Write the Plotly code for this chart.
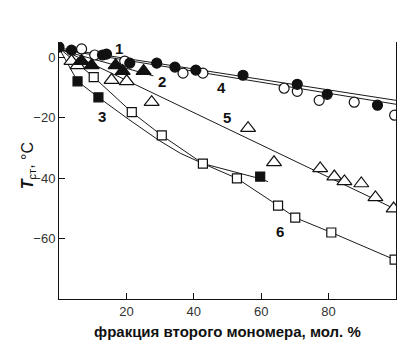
import plotly.graph_objects as go

# Series 1: filled circles
s1_x = [0, 3.7, 12.9, 14.1, 21.0, 29.0, 34.4, 40.6, 54.6, 70.7, 79.6, 94.5]
s1_y = [3.3, 2.3, 0.7, 1.0, -2.0, -2.0, -3.3, -4.3, -6.0, -9.0, -12.3, -15.9]
# Series 2: filled triangles
s2_x = [6.7, 9.7, 16.8, 18.9, 25.1]
s2_y = [-1.3, -2.7, -2.7, -4.6, -4.6]
# Series 3: filled squares
s3_x = [5.5, 11.7, 59.7]
s3_y = [-8.0, -13.3, -39.5]
# Series 4: open circles
s4_x = [6.7, 10.6, 19.5, 36.8, 42.7, 66.8, 70.7, 77.2, 87.6, 99.6]
s4_y = [2.7, 0.7, -1.3, -5.3, -5.3, -10.3, -11.3, -14.3, -14.9, -19.2]
# Series 5: open triangles
s5_x = [3.7, 5.5, 15.6, 20.1, 27.5, 56.1, 63.8, 77.5, 81.7, 84.7, 89.7, 93.9, 99.3]
s5_y = [-1.3, -2.7, -7.6, -8.0, -14.9, -23.5, -34.8, -36.8, -39.5, -41.1, -41.8, -46.4, -50.1]
# Series 6: open squares
s6_x = [10.3, 21.6, 30.5, 42.7, 52.8, 65.0, 70.1, 80.8, 99.6]
s6_y = [-6.6, -18.2, -25.9, -35.2, -40.1, -49.1, -53.1, -58.0, -67.0]

# Trend lines
l1_x, l1_y = [0, 100], [3.0, -14.3]
l2_x, l2_y = [0, 28], [2.5, -6.2]
l3_x = [0, 5.5, 11.7, 20.7, 29.6, 36.0, 42.7, 53.4, 60.0, 62.0]
l3_y = [3.0, -8.0, -13.3, -20.6, -27.5, -31.8, -35.2, -38.2, -40.3, -41.2]
l4_x, l4_y = [0, 100], [2.6, -15.6]
l5_x, l5_y = [0, 100], [3.0, -50.4]
l6_x = [0] + s6_x
l6_y = [3.0] + s6_y

# Curve labels
lab_text = ["1", "2", "3", "4", "5", "6"]
lab_x = [17.7, 30.5, 12.7, 48.1, 49.9, 65.6]
lab_y = [2.7, -8.0, -19.6, -10.0, -19.9, -57.7]

fig = go.Figure()

line_style = dict(color="#1a1a1a", width=1)
for lx, ly in [(l1_x, l1_y), (l2_x, l2_y), (l3_x, l3_y), (l4_x, l4_y), (l5_x, l5_y), (l6_x, l6_y)]:
    fig.add_trace(go.Scatter(x=lx, y=ly, mode="lines", line=line_style,
                             hoverinfo="skip", showlegend=False))

def markers(xs, ys, symbol, fill, size):
    fig.add_trace(go.Scatter(
        x=xs, y=ys, mode="markers", showlegend=False,
        marker=dict(symbol=symbol, size=size, color=fill,
                    line=dict(color="#111111", width=1.2))))

markers(s4_x, s4_y, "circle", "white", 10)
markers(s1_x, s1_y, "circle", "#111111", 10)
markers(s5_x, s5_y, "triangle-up", "white", 13)
markers(s2_x, s2_y, "triangle-up", "#111111", 13)
markers(s6_x, s6_y, "square", "white", 9)
markers(s3_x, s3_y, "square", "#111111", 9)

for t, x, y in zip(lab_text, lab_x, lab_y):
    fig.add_annotation(x=x, y=y, text="<b>" + t + "</b>", showarrow=False,
                       font=dict(size=15, color="#111111", family="Liberation Sans"))

# Axis titles
fig.add_annotation(xref="paper", yref="paper", x=0.5, y=-0.125,
                   xanchor="center", yanchor="middle",
                   text="<b>фракция второго мономера, мол. %</b>", showarrow=False,
                   font=dict(size=15, color="#111111", family="Liberation Sans"))
fig.add_annotation(xref="paper", yref="paper", x=-0.092, y=0.52, textangle=-90,
                   text="<b><i>T</i></b><sub>ст</sub>, °C", showarrow=False,
                   xanchor="center", yanchor="middle",
                   font=dict(size=16, color="#111111", family="Liberation Sans"))

fig.update_layout(
    width=403, height=348,
    margin=dict(l=59, r=7, t=42, b=49),
    paper_bgcolor="white", plot_bgcolor="white",
    font=dict(family="Liberation Sans", size=13, color="#333333"),
)
fig.update_xaxes(range=[0, 100], tickvals=[20, 40, 60, 80], ticks="inside",
                 ticklen=6, tickcolor="#111111", showgrid=False, zeroline=False,
                 showline=True, linecolor="#111111", linewidth=1, mirror=False,
                 ticklabelstandoff=0)
fig.update_yaxes(range=[-80, 5], tickvals=[-60, -40, -20, 0],
                 ticktext=["−60", "−40", "−20", "0"], ticks="inside",
                 ticklen=6, tickcolor="#111111", showgrid=False, zeroline=False,
                 showline=True, linecolor="#111111", linewidth=1, mirror=True)

fig.write_html("out.html")
